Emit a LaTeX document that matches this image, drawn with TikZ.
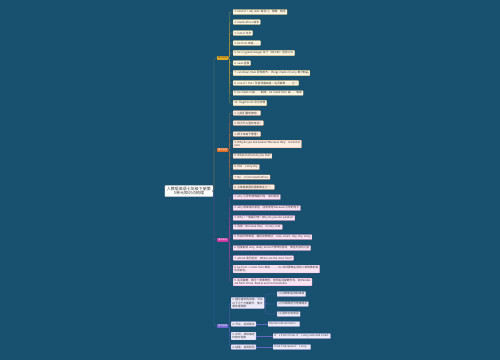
\documentclass[tikz,border=0pt]{standalone}
\usepackage{fontspec}
\setmainfont{Noto Sans CJK SC}
\usetikzlibrary{shadows}

\definecolor{bg}{RGB}{24,80,112}
\definecolor{gold}{RGB}{242,183,35}
\definecolor{orng}{RGB}{232,118,44}
\definecolor{mgnt}{RGB}{214,60,170}
\definecolor{prpl}{RGB}{122,108,214}

\tikzset{
  root/.style={fill=white, draw=black!25, rounded corners=1.5pt, anchor=east, align=center,
    inner xsep=4pt, inner ysep=3pt, font=\fontsize{8}{9.5}\selectfont, text=black!80},
  tag/.style={fill=#1, draw=#1!80!black, rounded corners=1pt, anchor=west,
    inner xsep=2pt, inner ysep=1.5pt, font=\fontsize{4.5}{5}\selectfont, text=white},
  box/.style={draw=#1!60, fill=#1!14, rounded corners=1pt, line width=0.3pt, anchor=west,
    align=left, inner xsep=2.5pt, inner ysep=2pt, text=black!80,
    font=\fontsize{5.5}{6.5}\selectfont,
    drop shadow={opacity=0.4, shadow xshift=0.7pt, shadow yshift=-0.7pt}},
  trunk/.style={draw=#1!55!bg, line width=0.6pt, rounded corners=3pt},
  twig/.style={draw=#1!75!bg, line width=0.5pt, rounded corners=2.5pt},
}

\begin{document}
\begin{tikzpicture}[x=2pt,y=-2pt]
  \fill[bg] (0,0) rectangle (500,360);
  \useasboundingbox (0,0) rectangle (500,360);

  \node[root] (root) at (213,191) {人教版英语七年级下册第\\5单元知识点梳理};

  \node[tag=gold, text=black!80] (b1) at (217,58) {重点短语};
  \node[tag=orng] (b2) at (217,150) {重点句型};
  \node[tag=mgnt] (b3) at (217,240) {语法知识};
  \node[tag=prpl] (b4) at (217,326) {写作指导};

  \foreach \b/\c in {b1/gold,b2/orng,b3/mgnt,b4/prpl}
    \draw[trunk=\c] (root.east) -- ++(1,0) |- (\b.west);

  % phrases
  \foreach \y/\t [count=\i] in {
      12/{1. kind of + adj./adv. 有点儿，稍微，相当},
      22/{2. South Africa 南非},
      33/{3. lots of 许多},
      43/{4. be from 来自……},
      53/{5. be in (great) danger 处于（极大的）危险之中},
      63/{6. save 拯救},
      73/{7. cut down trees 砍伐树木；things made of ivory 象牙制品},
      83/{8. one of + the + 形容词最高级 + 名词复数 ……之一},
      93/{9. be made of 由……制成；be made from 由……制成},
      103/{10. forget to do 忘记去做}} {
    \node[box=gold] (p\i) at (233,\y) {\t};
    \draw[twig=gold] (b1.east) -- ++(1,0) |- (p\i.west);
  }

  % sentences
  \foreach \y/\t [count=\i] in {
      113/{1. 让我们看熊猫吧。},
      123/{2. 你为什么喜欢考拉？},
      134/{3. 狮子来自于哪里？},
      144/{4. Why do you like koalas? Because they're kind of\\cute.},
      156/{5. What animals do you like?},
      167/{6. She's very shy.},
      177/{7. He's from South Africa.},
      187/{8. 大象是泰国的国家象征之一。}} {
    \node[box=orng] (s\i) at (233,\y) {\t};
    \draw[twig=orng] (b2.east) -- ++(1,0) |- (s\i.west);
  }

  % grammar
  \foreach \y/\t [count=\i] in {
      197/{1. why 引导的特殊疑问句：询问原因},
      208/{2. why 用来询问原因，回答常用 because 引导的句子},
      218/{3. Why + 一般疑问句？Why do you like pandas?},
      227/{4. 回答：Because they're very cute.},
      237/{5. 形容词作表语，描述动物特征：cute, smart, lazy, shy, scary},
      248/{6. 程度副词 very, really, kind of 修饰形容词，放在形容词之前},
      258/{7. where 询问出处：Where are the lions from?},
      269/{8. be from = come from 来自……，be 动词要随主语的人称和数的变\\化而变化。},
      282/{9. 名词复数：表示一类事物时，常用名词复数形式，如 Pandas\\are from China. Koalas are from Australia.}} {
    \node[box=mgnt] (g\i) at (233,\y) {\t};
    \draw[twig=mgnt] (b3.east) -- ++(1,0) |- (g\i.west);
  }

  % writing
  \node[box=prpl] (w1) at (231,303) {1. 描写喜欢的动物，可从\\以下几个方面展开，使文\\章条理清晰：};
  \node[box=prpl] (w2) at (231,324) {2. 开头：总述观点};
  \node[box=prpl] (w3) at (231,336) {3. 中间：具体描述\\外貌与性格};
  \node[box=prpl] (w4) at (231,347) {4. 结尾：说明原因};
  \foreach \w in {w1,w2,w3,w4}
    \draw[twig=prpl] (b4.east) -- ++(1,0) |- (\w.west);

  \node[box=prpl] (x1) at (277,294) {(1) 动物的名称和来源};
  \node[box=prpl] (x2) at (277,304) {(2) 外貌特征与性格特点};
  \node[box=prpl] (x3) at (277,314) {(3) 喜欢它的原因};
  \foreach \x in {x1,x2,x3}
    \draw[twig=prpl] (w1.east) -- ++(1.5,0) |- (\x.west);

  \node[box=prpl] (y2) at (268,324) {My favorite animal is…};
  \node[box=prpl] (y3) at (273,336) {It's from China. It's very cute and smart.};
  \node[box=prpl] (y4) at (273,347) {I like it because it's very…};
  \draw[twig=prpl] (w2.east) -- (y2.west);
  \draw[twig=prpl] (w3.east) -- (y3.west);
  \draw[twig=prpl] (w4.east) -- (y4.west);
\end{tikzpicture}
\end{document}
